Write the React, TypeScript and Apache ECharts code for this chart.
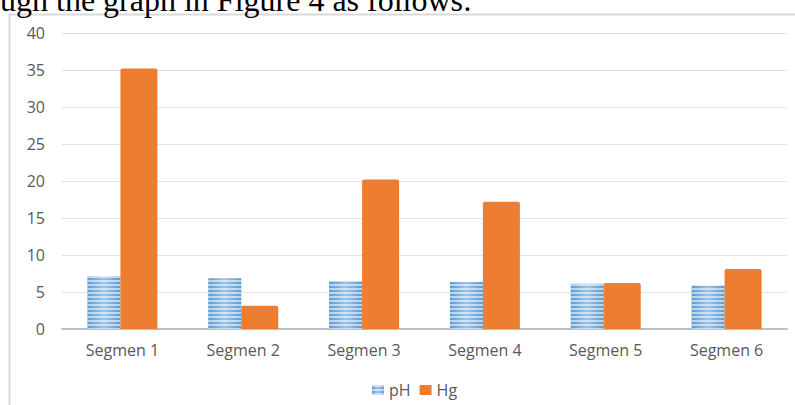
import React, { useEffect, useRef } from "react";
import * as echarts from "echarts";

const categories = ["Segmen 1", "Segmen 2", "Segmen 3", "Segmen 4", "Segmen 5", "Segmen 6"];
const phValues = [7.1, 6.85, 6.5, 6.35, 6.1, 5.85];
const hgValues = [35.2, 3.15, 20.2, 17.2, 6.2, 8.1];
const seriesNames = ["pH", "Hg"];
const captionText = "ugh the graph in Figure 4 as follows:";

export default function App() {
  const ref = useRef<HTMLDivElement>(null);
  useEffect(() => {
    if (!ref.current) return;
    const chart = echarts.init(ref.current, undefined, { renderer: "svg" });
    const font = "'Open Sans', 'Noto Sans', sans-serif";
    chart.setOption({
      animation: false,
      backgroundColor: "#ffffff",
      graphic: [
        {
          type: "rect",
          shape: { x: 9.5, y: 14.5, width: 800, height: 400 },
          style: { fill: "none", stroke: "#d9d9d9", lineWidth: 2 },
          silent: true,
        },
        {
          type: "text",
          x: 0,
          y: -16,
          style: {
            text: captionText,
            font: "32px 'Liberation Serif', serif",
            fill: "#000000",
          },
        },
      ],
      grid: { left: 62, right: 8, top: 33, bottom: 76 },
      legend: {
        data: seriesNames,
        top: 377,
        left: 367,
        itemWidth: 12,
        itemHeight: 10,
        itemGap: 9,
        textStyle: { color: "#595959", fontSize: 16, fontFamily: font },
        icon: "rect",
      },
      xAxis: {
        type: "category",
        data: categories,
        axisLine: { lineStyle: { color: "#bfbfbf", width: 2 } },
        axisTick: { show: false },
        axisLabel: { color: "#595959", fontSize: 16, fontFamily: font, margin: 13 },
      },
      yAxis: {
        type: "value",
        min: 0,
        max: 40,
        interval: 5,
        axisLine: { show: false },
        axisTick: { show: false },
        splitLine: { lineStyle: { color: "#e3e3e3", width: 1 } },
        axisLabel: { color: "#595959", fontSize: 16, fontFamily: font, margin: 17 },
      },
      series: [
        {
          name: "pH",
          type: "bar",
          data: phValues,
          barWidth: 33,
          barGap: "0%",
          itemStyle: {
            color: {
              type: "linear",
              x: 0, y: 0, x2: 1, y2: 0,
              colorStops: [
                { offset: 0, color: "#5b9bd5" },
                { offset: 0.5, color: "#9cc3e8" },
                { offset: 1, color: "#5b9bd5" },
              ],
            },
            decal: {
              symbol: "rect",
              symbolSize: 1,
              color: "rgba(255,255,255,0.55)",
              dashArrayX: [1, 0],
              dashArrayY: [2, 2],
              rotation: 0,
            },
          },
        },
        {
          name: "Hg",
          type: "bar",
          data: hgValues,
          barWidth: 37,
          barGap: "0%",
          itemStyle: { color: "#ed7d31", borderRadius: [2, 2, 0, 0] },
        },
      ],
    });
    return () => chart.dispose();
  }, []);
  return (
    <div
      ref={ref}
      style={{ position: "fixed", left: 0, top: 0, width: 795, height: 405 }}
    />
  );
}
